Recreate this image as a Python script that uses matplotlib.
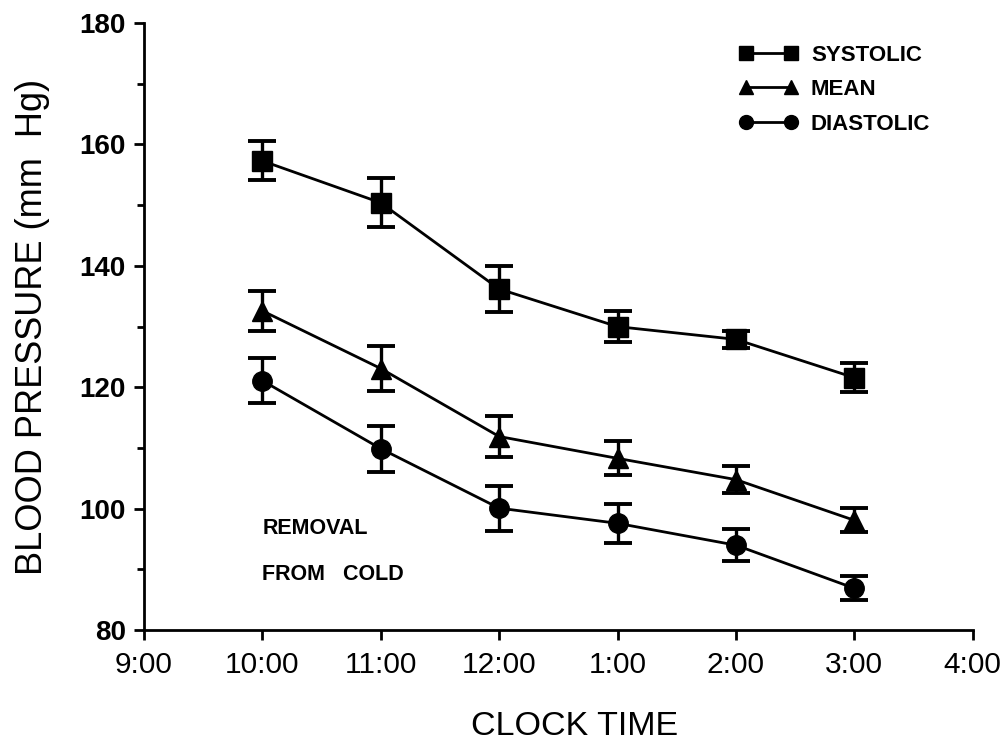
import matplotlib
matplotlib.use("Agg")
import matplotlib.pyplot as plt
from matplotlib.ticker import MultipleLocator
from matplotlib.lines import Line2D

plt.rcParams["font.family"] = ["Liberation Sans", "DejaVu Sans"]

# hours after 9:00
hours = [1, 2, 3, 4, 5, 6]
tick_pos = [0, 1, 2, 3, 4, 5, 6, 7]
tick_labels = ["9:00", "10:00", "11:00", "12:00", "1:00", "2:00", "3:00", "4:00"]

systolic = [157.3, 150.4, 136.2, 130.0, 127.9, 121.6]
systolic_err = [3.2, 4.0, 3.8, 2.5, 1.4, 2.4]
mean = [132.6, 123.1, 111.9, 108.3, 104.8, 98.1]
mean_err = [3.3, 3.7, 3.4, 2.8, 2.2, 2.0]
diastolic = [121.1, 109.9, 100.1, 97.6, 94.0, 86.9]
diastolic_err = [3.7, 3.8, 3.7, 3.2, 2.6, 2.0]

series = [
    ("SYSTOLIC", systolic, systolic_err, "s"),
    ("MEAN", mean, mean_err, "^"),
    ("DIASTOLIC", diastolic, diastolic_err, "o"),
]

fig = plt.figure(figsize=(10.02, 7.44), dpi=100)
ax = fig.add_axes([0.1437, 0.153, 0.827, 0.816])

handles = []
for name, vals, err, mk in series:
    ax.errorbar(hours, vals, yerr=err, marker=mk, color="black", lw=2.0,
                elinewidth=2.4, capsize=10, capthick=2.8, markersize=14,
                mfc="black", mec="black")
    handles.append(Line2D([], [], color="black", lw=2.0, marker=mk,
                          markersize=10, label=name))

ax.set_xlim(0, 7)
ax.set_ylim(80, 180)
ax.set_xticks(tick_pos)
ax.set_xticklabels(tick_labels)
ax.yaxis.set_major_locator(MultipleLocator(20))
ax.yaxis.set_minor_locator(MultipleLocator(10))

for s in ["top", "right"]:
    ax.spines[s].set_visible(False)
for s in ["left", "bottom"]:
    ax.spines[s].set_linewidth(2)

ax.tick_params(axis="both", which="major", length=7, width=2, direction="out")
ax.tick_params(axis="y", which="minor", length=5, width=2, direction="out")
ax.tick_params(axis="x", labelsize=21.5, pad=8)
ax.tick_params(axis="y", labelsize=20, pad=6)
for lab in ax.get_yticklabels():
    lab.set_fontweight("bold")

ax.set_xlabel("CLOCK TIME", fontsize=24.5)
ax.xaxis.set_label_coords(0.52, -0.133)
ax.set_ylabel("BLOOD PRESSURE (mm  Hg)", fontsize=26)
ax.yaxis.set_label_coords(-0.113, 0.5)

ax.text(1, 96.8, "REMOVAL", fontsize=15.5, fontweight="bold", ha="left", va="center")
ax.text(1, 89.2, "FROM   COLD", fontsize=15.5, fontweight="bold", ha="left", va="center")

ax.legend(handles=handles, loc="upper left", bbox_to_anchor=(0.694, 0.997),
          frameon=False, numpoints=2, handlelength=2.63, handletextpad=0.6,
          labelspacing=0.6, prop={"size": 16, "weight": "bold"})

fig.savefig("out.png", dpi=100)
